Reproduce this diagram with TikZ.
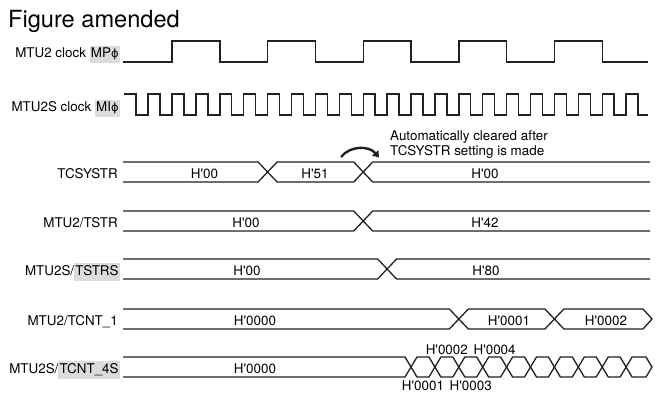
\documentclass[tikz,border=0pt]{standalone}
\usepackage{fontspec}
\setmainfont{TeX Gyre Heros}
\newfontfamily\phifont{DejaVu Sans}[Scale=0.85]
\usepackage{tikz}
\usetikzlibrary{arrows.meta}
\usepackage{xcolor}
\definecolor{hlgray}{HTML}{DCDCDC}
\definecolor{inkblack}{HTML}{231F20}

\newcommand{\hexv}[1]{H\textquotesingle#1}
\newcommand{\phisym}{{\phifont ϕ}}
\newcommand{\hlbox}[1]{{\setlength{\fboxsep}{1.2pt}\colorbox{hlgray}{\strut#1}}}

\begin{document}
\begin{tikzpicture}[
    x=1pt, y=-1pt,
    wave/.style={draw=inkblack, line width=1.4pt, line join=miter},
    bus/.style={draw=inkblack, line width=1.3pt, line join=miter},
    lbl/.style={font=\fontsize{13.4}{15}\selectfont, anchor=base east, inner sep=0pt},
    val/.style={font=\fontsize{13.4}{15}\selectfont, anchor=base, inner sep=0pt},
    clrarrow/.style={draw=inkblack, line width=2.4pt, -{Triangle[length=6pt,width=8pt]}},
]
\useasboundingbox (0,0) rectangle (658,394);

% Title
\node[font=\fontsize{23.6}{28}\selectfont, anchor=base west, inner sep=0pt] (title) at (8,27) {Figure amended};

% Signal names
\node[lbl] (lmp) at (120,57.3) {MTU2 clock \hlbox{MP\phisym}};
\node[lbl] (lmi) at (120,111.7) {MTU2S clock \hlbox{MI\phisym}};
\node[lbl] (lsys) at (118,178) {TCSYSTR};
\node[lbl] (ltstr) at (118,227) {MTU2/TSTR};
\node[lbl] (ltstrs) at (120,275) {MTU2S/\hlbox{TSTRS}};
\node[lbl] (lcnt1) at (118,325) {MTU2/TCNT\_1};
\node[lbl] (lcnt4) at (120,373) {MTU2S/\hlbox{TCNT\_4S}};

% Clocks (MI period 23.9, MP period 4 x 23.9)
\draw[wave] (123,62) foreach \k in {0,...,4} {
    -- ({172+4*\k*23.9},62) -- ++(0,-21) -- ++(47.8,0) -- ++(0,21) } -- (648,62);
\draw[wave] (124,94) -- (136.05,94) -- (136.05,115) foreach \k in {-1,...,19} {
    -- ({172+\k*23.9},115) -- ++(0,-21) -- ++(11.95,0) -- ++(0,21) } -- (648,115);

% TCSYSTR
\draw[bus] (123,162) -- (258.1,162) -- (267.6,172) -- (258.1,182) -- (123,182);
\draw[bus] (267.6,172) -- (277.1,162) -- (353.7,162) -- (363.2,172) -- (353.7,182) -- (277.1,182) -- cycle;
\draw[bus] (650,162) -- (372.7,162) -- (363.2,172) -- (372.7,182) -- (650,182);
\node[val] (sys0) at (204.5,178) {\hexv{00}};
\node[val] (sys1) at (315,178) {\hexv{51}};
\node[val] (sys2) at (485,178) {\hexv{00}};

% MTU2/TSTR
\draw[bus] (123,211) -- (353.7,211) -- (363.2,221) -- (353.7,231) -- (123,231);
\draw[bus] (650,211) -- (372.7,211) -- (363.2,221) -- (372.7,231) -- (650,231);
\node[val] (tstr0) at (246,227) {\hexv{00}};
\node[val] (tstr1) at (485,227) {\hexv{42}};

% MTU2S/TSTRS
\draw[bus] (123,259) -- (377.6,259) -- (387.1,269) -- (377.6,279) -- (123,279);
\draw[bus] (650,259) -- (396.6,259) -- (387.1,269) -- (396.6,279) -- (650,279);
\node[val] (tstrs0) at (247,275) {\hexv{00}};
\node[val] (tstrs1) at (486,275) {\hexv{80}};

% MTU2/TCNT_1
\draw[bus] (123,309) -- (449.3,309) -- (458.8,319) -- (449.3,329) -- (123,329);
\draw[bus] (458.8,319) -- (468.3,309) -- (544.9,309) -- (554.4,319) -- (544.9,329) -- (468.3,329) -- cycle;
\draw[bus] (554.4,319) -- (563.9,309) -- (643,309) -- (652,319) -- (643,329) -- (563.9,329) -- cycle;
\node[val] (cnt1a) at (255,325) {\hexv{0000}};
\node[val] (cnt1b) at (509,325) {\hexv{0001}};
\node[val] (cnt1c) at (606,325) {\hexv{0002}};

% MTU2S/TCNT_4S
\draw[bus] (123,357) -- (405,357) -- (411,367) -- (405,377) -- (123,377);
\foreach \k in {10,...,18} {
    \pgfmathsetmacro\xa{172+\k*23.9}
    \pgfmathsetmacro\xb{\xa+23.9}
    \draw[bus] (\xa,367) -- (\xa+6,357) -- (\xb-6,357) -- (\xb,367) -- (\xb-6,377) -- (\xa+6,377) -- cycle;
}
\draw[bus] (626.1,367) -- (632.1,357) -- (646,357) -- (652,367) -- (646,377) -- (632.1,377) -- cycle;
\node[val] (cnt4a) at (255,373) {\hexv{0000}};
\node[val] (cnt4b) at (423,390) {\hexv{0001}};
\node[val] (cnt4c) at (446.8,354) {\hexv{0002}};
\node[val] (cnt4d) at (470.7,390) {\hexv{0003}};
\node[val] (cnt4e) at (494.6,354) {\hexv{0004}};

% Auto-clear note
\node[font=\fontsize{13.4}{15}\selectfont, anchor=north west, inner sep=0pt, align=left] (note) at (390,130.5) {Automatically cleared after\\TCSYSTR setting is made};
\coordinate (clrA) at (341,157);
\coordinate (clrB) at (379,157.5);
\draw[clrarrow] (clrA) .. controls (350,145.5) and (369,145.5) .. (clrB);

\end{tikzpicture}
\end{document}
